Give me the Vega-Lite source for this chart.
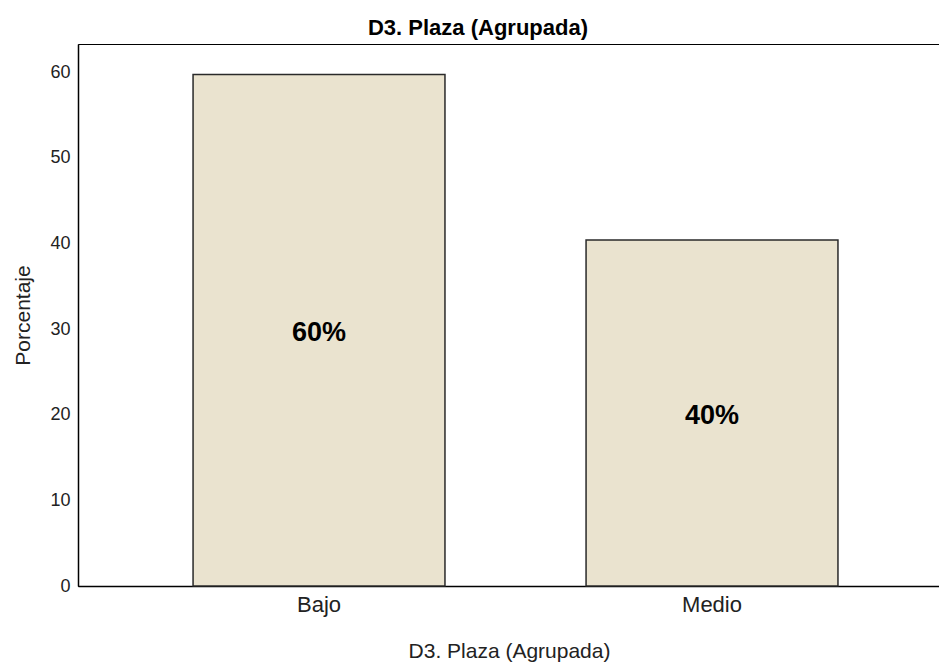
{
  "$schema": "https://vega.github.io/schema/vega-lite/v6.json",
  "autosize": "none",
  "width": 862,
  "height": 542,
  "padding": {"left": 78, "top": 44, "right": 0, "bottom": 76},
  "background": "white",
  "config": {
    "font": "Liberation Sans",
    "view": {"stroke": "black", "strokeWidth": 1}
  },
  "title": {
    "text": "D3. Plaza (Agrupada)",
    "fontSize": 22,
    "fontWeight": "bold",
    "color": "black",
    "font": "Liberation Sans",
    "anchor": "middle",
    "dx": -31,
    "offset": 4
  },
  "data": {
    "values": [
      {"categoria": "Bajo", "porcentaje": 59.7, "etiqueta": "60%"},
      {"categoria": "Medio", "porcentaje": 40.4, "etiqueta": "40%"}
    ]
  },
  "encoding": {
    "x": {
      "field": "categoria",
      "type": "nominal",
      "sort": ["Bajo", "Medio"],
      "scale": {"paddingInner": 0.359, "paddingOuter": 0.2762, "align": 0.53},
      "axis": {
        "title": "D3. Plaza (Agrupada)",
        "titleFontSize": 21,
        "titleFontWeight": "normal",
        "titleColor": "#222",
        "titlePadding": 25,
        "labelAngle": 0,
        "labelFontSize": 22,
        "labelColor": "#222",
        "labelPadding": 8,
        "ticks": false,
        "domainColor": "black",
        "domainWidth": 1.5
      }
    }
  },
  "layer": [
    {
      "mark": {"type": "bar", "fill": "#EAE3CF", "stroke": "#2a2a2a", "strokeWidth": 1.5},
      "encoding": {
        "y": {
          "field": "porcentaje",
          "type": "quantitative",
          "scale": {"domain": [0, 63.27], "nice": false, "zero": true},
          "axis": {
            "title": "Porcentaje",
            "titleFontSize": 21,
            "titleFontWeight": "normal",
            "titleColor": "#222",
            "titlePadding": 16,
            "values": [0, 10, 20, 30, 40, 50, 60],
            "labelFontSize": 18,
            "labelColor": "#222",
            "labelPadding": 8,
            "ticks": false,
            "grid": false,
            "domainColor": "black",
            "domainWidth": 1.5
          }
        }
      }
    },
    {
      "transform": [{"calculate": "datum.porcentaje / 2", "as": "medio"}],
      "mark": {"type": "text", "fontSize": 27, "fontWeight": "bold", "color": "black", "baseline": "middle", "dy": 3},
      "encoding": {
        "y": {"field": "medio", "type": "quantitative"},
        "text": {"field": "etiqueta"}
      }
    }
  ]
}
